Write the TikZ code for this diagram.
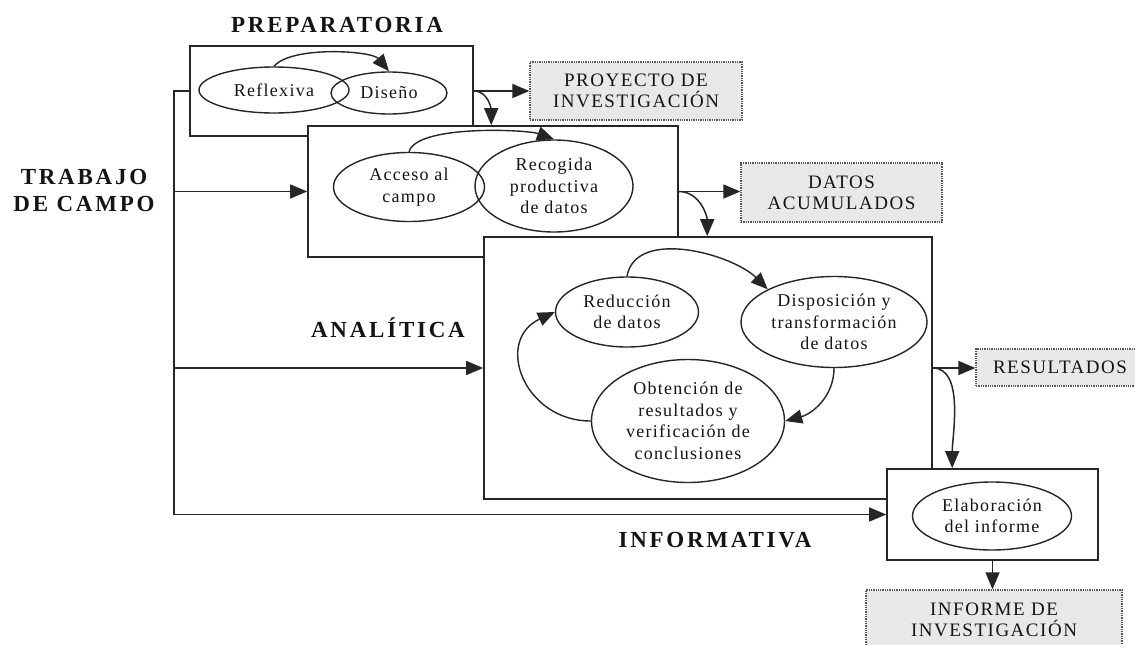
\documentclass[tikz,border=0pt]{standalone}
\usepackage{fontspec}
\setmainfont{Liberation Serif}
\newfontfamily\titlefont[LetterSpace=12]{Liberation Serif}
\newfontfamily\nodefont[LetterSpace=7]{Liberation Serif}
\newfontfamily\outfont[LetterSpace=8]{Liberation Serif}
\usetikzlibrary{arrows.meta,calc,shapes.geometric}
\tikzset{
  phasebox/.style={draw=black!85, rectangle, fill=white, inner sep=0pt, line width=1.6pt},
  outbox/.style={draw=black!65, densely dotted, fill=black!9, line width=1.3pt, inner sep=0pt,
                 align=center, font=\outfont\fontsize{19}{21}\selectfont, text=black!92},
  ell/.style={draw=black!85, ellipse, inner sep=0pt, line width=1.4pt, align=center,
              font=\nodefont\fontsize{18}{21.5}\selectfont, text=black!92},
  ttl/.style={font=\titlefont\bfseries\fontsize{23}{27}\selectfont, align=center, text=black!92},
  arr/.style={-{Triangle[length=17pt,width=14pt]}, line width=1.5pt, draw=black!85},
  arc/.style={-{Triangle[length=17pt,width=14pt]}, line width=1.4pt, draw=black!85},
  ln/.style={line width=1.5pt, draw=black!85}
}
\begin{document}
\begin{tikzpicture}[x=1pt,y=1pt]
\useasboundingbox[fill=white] (0,0) rectangle (1135,-645);

% titles
\node[ttl] (tprep) at (337,-25) {PREPARATORIA};
\node[ttl] (tcampo) at (84,-190) {TRABAJO\\DE CAMPO};
\node[ttl] (tanal) at (388,-328) {ANALÍTICA};
\node[ttl] (tinfo) at (715,-540) {INFORMATIVA};

% output boxes
\node[outbox, minimum width=212pt, minimum height=58pt] (proj) at (636,-91) {PROYECTO DE\\INVESTIGACIÓN};
\node[outbox, minimum width=201pt, minimum height=59pt] (datos) at (841.5,-192.5) {DATOS\\ACUMULADOS};
\node[outbox, minimum width=168pt, minimum height=37pt] (res) at (1060,-367.5) {RESULTADOS};
\node[outbox, minimum width=256pt, minimum height=60pt] (inf) at (994,-620) {INFORME DE\\INVESTIGACIÓN};

% phase 1
\node[phasebox, minimum width=283pt, minimum height=90pt] (box1) at (331.5,-91) {};
\node[ell, minimum width=150pt, minimum height=46pt] (refl) at (274,-90) {Reflexiva};
\node[ell, minimum width=116pt, minimum height=42pt] (dis) at (389,-93) {Diseño};
\draw[arc] (refl.north) to[out=50,in=130,looseness=0.6] (dis.north);

% phase 2
\node[phasebox, minimum width=370pt, minimum height=131pt] (box2) at (493,-191.5) {};
\node[ell, minimum width=151pt, minimum height=69pt] (acc) at (409,-187) {Acceso al\\campo};
\node[ell, minimum width=158pt, minimum height=92pt] (rec) at (554,-186) {Recogida\\productiva\\de datos};
\draw[arc] (acc.north) to[out=75,in=160,looseness=0.5] (rec.north);
\draw[arr] (box1.east) to[out=0,in=90] ($(box2.north west)+(184,0)$);

% phase 3
\node[phasebox, minimum width=448pt, minimum height=262pt] (box3) at (708,-368) {};
\node[ell, minimum width=143pt, minimum height=70pt] (red) at (627,-312) {Reducción\\de datos};
\node[ell, minimum width=186pt, minimum height=91pt] (disp) at (834,-322) {Disposición y\\transformación\\de datos};
\node[ell, minimum width=193pt, minimum height=123pt] (obt) at (688,-421) {Obtención de\\resultados y\\verificación de\\conclusiones};
\draw[arc] (red.north) to[out=80,in=135,looseness=0.9] (disp.north west);
\draw[arc] (disp.south) to[out=-90,in=15] (obt.east);
\draw[arc] (obt.west) to[out=180,in=205,looseness=1.5] (red.west);
\draw[arr] (box2.east) to[out=0,in=90] ($(box3.north west)+(224,0)$);

% phase 4
\node[phasebox, minimum width=211pt, minimum height=91pt] (box4) at (992.5,-514.5) {};
\node[ell, minimum width=159pt, minimum height=68pt] (elab) at (992,-516) {Elaboración\\del informe};
\draw[arr] (box3.east) to[out=0,in=90,looseness=0.8] ($(box4.north west)+(66,0)$);

% outputs
\draw[arr] (box1.east) -- (proj.west);
\draw[arr] (box2.east) -- (box2.east -| datos.west);
\draw[arr] (box3.east) -- (box3.east -| res.west);
\draw[arr] (box4.south) -- (box4.south |- inf.north);

% trunk
\coordinate (lt) at (174,-91);
\coordinate (lb) at (box4.west -| lt);
\draw[ln] (box1.west) -- (lt) -- (lb);
\draw[arr] (lb) -- (box4.west);
\draw[arr] (box2.west -| lt) -- (box2.west);
\draw[arr] (box3.west -| lt) -- (box3.west);
\end{tikzpicture}
\end{document}
